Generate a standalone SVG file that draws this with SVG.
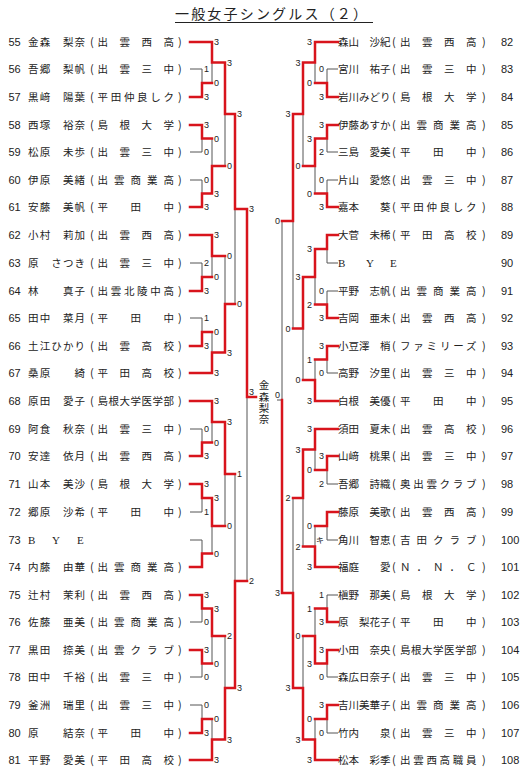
<svg xmlns="http://www.w3.org/2000/svg" width="520" height="776" viewBox="0 0 520 776">
<style>
.no{font-family:"Liberation Sans",Arial,sans-serif;font-size:11px;fill:#222}
.nm{font-family:"Noto Sans CJK JP",sans-serif;font-size:10.5px;fill:#222}
.pa{font-family:"Noto Sans CJK JP",sans-serif;font-size:11px;fill:#222}
.bye{font-family:"Liberation Serif",serif;font-size:11px;fill:#222}
.sc{font-family:"Liberation Sans",Arial,sans-serif;font-size:9px;fill:#222}
.sk{font-family:"Noto Sans CJK JP",sans-serif;font-size:8px;fill:#222}
.r{text-anchor:end}
.g{fill:none;stroke:#555;stroke-width:1}
.rd{fill:none;stroke:#d8141c;stroke-width:2.5;stroke-linecap:square}
.ti{font-family:"Noto Sans CJK JP",sans-serif;font-size:14px;fill:#222}
.vt{font-family:"Noto Sans CJK JP",sans-serif;font-size:10.5px;fill:#222;writing-mode:vertical-rl;letter-spacing:0.8px}
</style>
<rect width="520" height="776" fill="#fff"/>
<g id="title"><text class="ti" x="175" y="19" textLength="192">一般女子シングルス（２）</text><line x1="175" y1="22.5" x2="373" y2="22.5" stroke="#222" stroke-width="1"/></g>

<g id="connectors">
<path class="g" d="M190,69H202V83M212,62.5V83M190,152H202V138.5M190,180H202V193.5M212,138.5V166M225,114V166M190,263H202V277M212,256V277M190,318H202V332M212,332V352.5M225,256V304M235,209V304M190,429H202V442.5M212,422V442.5M190,512H202V498M190,540H202V553.5M212,526V553.5M225,474V526M190,622H202V608.5M190,677H202V663.5M212,636V663.5M190,705H202V719M212,719V739.5M225,636V688M235,474V581M247,397V581"/>
<path class="g" d="M338,69H327V83M315,62.5V83M338,152H327V138.5M338,180H327V193.5M315,166V193.5M303,114V166M338,263H327V249M338,291H327V304.5M315,277V304.5M338,373H327V359.5M315,359.5V380M303,328.5V380M293,221V328.5M338,484H327V470M315,449.5V470M338,540H327V526M315,526V546.5M303,498V546.5M338,595H327V608.5M315,608.5V636M338,677H327V663.5M338,733H327V719M315,719V739.5M303,636V688M293,498V593M282,221V400H277"/>
<path class="rd" d="M190,97H202V83H212M190,42H212V62.5H225M190,125H202V138.5H212M190,207H202V193.5H212M212,193.5V166H225M225,62.5V114H235M190,291H202V277H212M190,235H212V256H225M190,346H202V332H212M190,373H212V352.5H225M225,352.5V304H235M235,114V209H247M190,456H202V442.5H212M190,401H212V422H225M190,484H202V498H212M190,567H202V553.5H212M212,498V526H225M225,422V474H235M190,595H202V608.5H212M190,650H202V663.5H212M212,608.5V636H225M190,733H202V719H212M190,760H212V739.5H225M225,739.5V688H235M235,688V581H247M247,209V397H256"/>
<path class="rd" d="M338,97H327V83H315M338,42H315V62.5H303M338,125H327V138.5H315M338,207H327V193.5H315M315,138.5V166H303M303,62.5V114H293M338,235H327V249H315M338,318H327V304.5H315M315,249V277H303M338,346H327V359.5H315M338,401H315V380H303M303,277V328.5H293M293,114V221H282M338,429H315V449.5H303M338,456H327V470H315M338,512H327V526H315M338,567H315V546.5H303M303,449.5V498H293M338,622H327V608.5H315M338,650H327V663.5H315M315,663.5V636H303M338,705H327V719H315M338,760H315V739.5H303M303,739.5V688H293M293,688V593H282M282,593V400"/>
</g>

<g id="scores">
<text class="sc" x="204" y="72">1</text><text class="sc" x="204" y="100">3</text><text class="sc" x="204" y="128">3</text><text class="sc" x="204" y="155">0</text><text class="sc" x="204" y="183">0</text><text class="sc" x="204" y="210">3</text><text class="sc" x="204" y="266">2</text><text class="sc" x="204" y="294">3</text><text class="sc" x="204" y="321">1</text><text class="sc" x="204" y="349">3</text><text class="sc" x="204" y="432">0</text><text class="sc" x="204" y="459">3</text><text class="sc" x="204" y="487">3</text><text class="sc" x="204" y="515">1</text><text class="sc" x="204" y="598">3</text><text class="sc" x="204" y="625">0</text><text class="sc" x="204" y="653">3</text><text class="sc" x="204" y="680">0</text><text class="sc" x="204" y="708">0</text><text class="sc" x="204" y="736">3</text>
<text class="sc" x="214" y="45">3</text><text class="sc" x="214" y="86">0</text><text class="sc" x="214" y="141.5">0</text><text class="sc" x="214" y="196.5">3</text><text class="sc" x="214" y="238">3</text><text class="sc" x="214" y="280">0</text><text class="sc" x="214" y="335">0</text><text class="sc" x="214" y="376">3</text><text class="sc" x="214" y="404">3</text><text class="sc" x="214" y="445.5">0</text><text class="sc" x="214" y="501">3</text><text class="sc" x="214" y="556.5">0</text><text class="sc" x="214" y="611.5">3</text><text class="sc" x="214" y="666.5">0</text><text class="sc" x="214" y="722">0</text><text class="sc" x="214" y="763">3</text>
<text class="sc" x="227" y="65.5">3</text><text class="sc" x="227" y="169">0</text><text class="sc" x="227" y="259">0</text><text class="sc" x="227" y="355.5">3</text><text class="sc" x="227" y="425">3</text><text class="sc" x="227" y="529">0</text><text class="sc" x="227" y="639">2</text><text class="sc" x="227" y="742.5">3</text>
<text class="sc" x="237" y="117">3</text><text class="sc" x="237" y="307">0</text><text class="sc" x="237" y="477">1</text><text class="sc" x="237" y="691">3</text>
<text class="sc" x="249" y="212">3</text><text class="sc" x="249" y="584">2</text>
<text class="sc" x="249" y="395">3</text>
<text class="sc r" x="324" y="72">0</text><text class="sc r" x="324" y="100">3</text><text class="sc r" x="324" y="128">3</text><text class="sc r" x="324" y="155">2</text><text class="sc r" x="324" y="183">0</text><text class="sc r" x="324" y="210">3</text><text class="sc r" x="324" y="294">0</text><text class="sc r" x="324" y="321">3</text><text class="sc r" x="324" y="349">3</text><text class="sc r" x="324" y="376">0</text><text class="sc r" x="324" y="459">3</text><text class="sc r" x="324" y="487">2</text><text class="sk r" x="324" y="543">キ</text><text class="sc r" x="324" y="598">1</text><text class="sc r" x="324" y="625">3</text><text class="sc r" x="324" y="653">3</text><text class="sc r" x="324" y="680">0</text><text class="sc r" x="324" y="708">3</text><text class="sc r" x="324" y="736">0</text>
<text class="sc r" x="312" y="45">3</text><text class="sc r" x="312" y="86">0</text><text class="sc r" x="312" y="141.5">3</text><text class="sc r" x="312" y="196.5">0</text><text class="sc r" x="312" y="252">3</text><text class="sc r" x="312" y="307.5">2</text><text class="sc r" x="312" y="362.5">1</text><text class="sc r" x="312" y="404">3</text><text class="sc r" x="312" y="432">3</text><text class="sc r" x="312" y="473">0</text><text class="sc r" x="312" y="529">0</text><text class="sc r" x="312" y="570">3</text><text class="sc r" x="312" y="611.5">1</text><text class="sc r" x="312" y="666.5">3</text><text class="sc r" x="312" y="722">0</text><text class="sc r" x="312" y="763">3</text>
<text class="sc r" x="300.5" y="65.5">3</text><text class="sc r" x="300.5" y="169">0</text><text class="sc r" x="300.5" y="280">3</text><text class="sc r" x="300.5" y="383">0</text><text class="sc r" x="300.5" y="452.5">3</text><text class="sc r" x="300.5" y="549.5">2</text><text class="sc r" x="300.5" y="639">0</text><text class="sc r" x="300.5" y="742.5">3</text>
<text class="sc r" x="290.5" y="117">3</text><text class="sc r" x="290.5" y="331.5">0</text><text class="sc r" x="290.5" y="501">2</text><text class="sc r" x="290.5" y="691">3</text>
<text class="sc r" x="280" y="224">0</text><text class="sc r" x="280" y="596">3</text>
<text class="sc r" x="280" y="398">0</text>
</g>

<g id="winner"><text class="vt" x="264" y="380">金森梨奈</text></g>

<g id="p55"><text class="no" x="8.5" y="46">55</text><text class="nm" x="28" y="46" textLength="57">金森　梨奈</text><text class="pa" x="90" y="46">(</text><text class="nm" x="97.5" y="46" textLength="76.5">出雲西高</text><text class="pa" x="178" y="46">)</text></g>
<g id="p56"><text class="no" x="8.5" y="73">56</text><text class="nm" x="28" y="73" textLength="57">吾郷　梨帆</text><text class="pa" x="90" y="73">(</text><text class="nm" x="97.5" y="73" textLength="76.5">出雲三中</text><text class="pa" x="178" y="73">)</text></g>
<g id="p57"><text class="no" x="8.5" y="101">57</text><text class="nm" x="28" y="101" textLength="57">黒﨑　陽葉</text><text class="pa" x="90" y="101">(</text><text class="nm" x="97.5" y="101" textLength="76.5">平田仲良しク</text><text class="pa" x="178" y="101">)</text></g>
<g id="p58"><text class="no" x="8.5" y="129">58</text><text class="nm" x="28" y="129" textLength="57">西塚　裕奈</text><text class="pa" x="90" y="129">(</text><text class="nm" x="97.5" y="129" textLength="76.5">島根大学</text><text class="pa" x="178" y="129">)</text></g>
<g id="p59"><text class="no" x="8.5" y="156">59</text><text class="nm" x="28" y="156" textLength="57">松原　未歩</text><text class="pa" x="90" y="156">(</text><text class="nm" x="97.5" y="156" textLength="76.5">出雲三中</text><text class="pa" x="178" y="156">)</text></g>
<g id="p60"><text class="no" x="8.5" y="184">60</text><text class="nm" x="28" y="184" textLength="57">伊原　美緒</text><text class="pa" x="90" y="184">(</text><text class="nm" x="97.5" y="184" textLength="76.5">出雲商業高</text><text class="pa" x="178" y="184">)</text></g>
<g id="p61"><text class="no" x="8.5" y="211">61</text><text class="nm" x="28" y="211" textLength="57">安藤　美帆</text><text class="pa" x="90" y="211">(</text><text class="nm" x="97.5" y="211" textLength="76.5">平田中</text><text class="pa" x="178" y="211">)</text></g>
<g id="p62"><text class="no" x="8.5" y="239">62</text><text class="nm" x="28" y="239" textLength="57">小村　莉加</text><text class="pa" x="90" y="239">(</text><text class="nm" x="97.5" y="239" textLength="76.5">出雲西高</text><text class="pa" x="178" y="239">)</text></g>
<g id="p63"><text class="no" x="8.5" y="267">63</text><text class="nm" x="28" y="267" textLength="57">原　さつき</text><text class="pa" x="90" y="267">(</text><text class="nm" x="97.5" y="267" textLength="76.5">出雲三中</text><text class="pa" x="178" y="267">)</text></g>
<g id="p64"><text class="no" x="8.5" y="295">64</text><text class="nm" x="28" y="295" textLength="57">林　　真子</text><text class="pa" x="90" y="295">(</text><text class="nm" x="97.5" y="295" textLength="76.5">出雲北陵中高</text><text class="pa" x="178" y="295">)</text></g>
<g id="p65"><text class="no" x="8.5" y="322">65</text><text class="nm" x="28" y="322" textLength="57">田中　菜月</text><text class="pa" x="90" y="322">(</text><text class="nm" x="97.5" y="322" textLength="76.5">平田中</text><text class="pa" x="178" y="322">)</text></g>
<g id="p66"><text class="no" x="8.5" y="350">66</text><text class="nm" x="28" y="350" textLength="57">土江ひかり</text><text class="pa" x="90" y="350">(</text><text class="nm" x="97.5" y="350" textLength="76.5">出雲高校</text><text class="pa" x="178" y="350">)</text></g>
<g id="p67"><text class="no" x="8.5" y="377">67</text><text class="nm" x="28" y="377" textLength="57">桑原　　綺</text><text class="pa" x="90" y="377">(</text><text class="nm" x="97.5" y="377" textLength="76.5">平田高校</text><text class="pa" x="178" y="377">)</text></g>
<g id="p68"><text class="no" x="8.5" y="405">68</text><text class="nm" x="28" y="405" textLength="57">原田　愛子</text><text class="pa" x="90" y="405">(</text><text class="nm" x="97.5" y="405" textLength="76.5">島根大学医学部</text><text class="pa" x="178" y="405">)</text></g>
<g id="p69"><text class="no" x="8.5" y="433">69</text><text class="nm" x="28" y="433" textLength="57">阿食　秋奈</text><text class="pa" x="90" y="433">(</text><text class="nm" x="97.5" y="433" textLength="76.5">出雲三中</text><text class="pa" x="178" y="433">)</text></g>
<g id="p70"><text class="no" x="8.5" y="460">70</text><text class="nm" x="28" y="460" textLength="57">安達　依月</text><text class="pa" x="90" y="460">(</text><text class="nm" x="97.5" y="460" textLength="76.5">出雲西高</text><text class="pa" x="178" y="460">)</text></g>
<g id="p71"><text class="no" x="8.5" y="488">71</text><text class="nm" x="28" y="488" textLength="57">山本　美沙</text><text class="pa" x="90" y="488">(</text><text class="nm" x="97.5" y="488" textLength="76.5">島根大学</text><text class="pa" x="178" y="488">)</text></g>
<g id="p72"><text class="no" x="8.5" y="516">72</text><text class="nm" x="28" y="516" textLength="57">郷原　沙希</text><text class="pa" x="90" y="516">(</text><text class="nm" x="97.5" y="516" textLength="76.5">平田中</text><text class="pa" x="178" y="516">)</text></g>
<g id="p73"><text class="no" x="8.5" y="544">73</text><text class="bye" x="28 52 77" y="544">BYE</text></g>
<g id="p74"><text class="no" x="8.5" y="571">74</text><text class="nm" x="28" y="571" textLength="57">内藤　由華</text><text class="pa" x="90" y="571">(</text><text class="nm" x="97.5" y="571" textLength="76.5">出雲商業高</text><text class="pa" x="178" y="571">)</text></g>
<g id="p75"><text class="no" x="8.5" y="599">75</text><text class="nm" x="28" y="599" textLength="57">辻村　茉利</text><text class="pa" x="90" y="599">(</text><text class="nm" x="97.5" y="599" textLength="76.5">出雲西高</text><text class="pa" x="178" y="599">)</text></g>
<g id="p76"><text class="no" x="8.5" y="626">76</text><text class="nm" x="28" y="626" textLength="57">佐藤　亜美</text><text class="pa" x="90" y="626">(</text><text class="nm" x="97.5" y="626" textLength="76.5">出雲商業高</text><text class="pa" x="178" y="626">)</text></g>
<g id="p77"><text class="no" x="8.5" y="654">77</text><text class="nm" x="28" y="654" textLength="57">黒田　捺美</text><text class="pa" x="90" y="654">(</text><text class="nm" x="97.5" y="654" textLength="76.5">出雲クラブ</text><text class="pa" x="178" y="654">)</text></g>
<g id="p78"><text class="no" x="8.5" y="681">78</text><text class="nm" x="28" y="681" textLength="57">田中　千裕</text><text class="pa" x="90" y="681">(</text><text class="nm" x="97.5" y="681" textLength="76.5">出雲三中</text><text class="pa" x="178" y="681">)</text></g>
<g id="p79"><text class="no" x="8.5" y="709">79</text><text class="nm" x="28" y="709" textLength="57">釜洲　瑞里</text><text class="pa" x="90" y="709">(</text><text class="nm" x="97.5" y="709" textLength="76.5">出雲三中</text><text class="pa" x="178" y="709">)</text></g>
<g id="p80"><text class="no" x="8.5" y="737">80</text><text class="nm" x="28" y="737" textLength="57">原　　結奈</text><text class="pa" x="90" y="737">(</text><text class="nm" x="97.5" y="737" textLength="76.5">平田中</text><text class="pa" x="178" y="737">)</text></g>
<g id="p81"><text class="no" x="8.5" y="764">81</text><text class="nm" x="28" y="764" textLength="57">平野　愛美</text><text class="pa" x="90" y="764">(</text><text class="nm" x="97.5" y="764" textLength="76.5">平田高校</text><text class="pa" x="178" y="764">)</text></g>

<g id="p82"><text class="nm" x="338" y="46" textLength="52.5">森山　沙紀</text><text class="pa" x="392" y="46">(</text><text class="nm" x="400" y="46" textLength="76.5">出雲西高</text><text class="pa" x="482" y="46">)</text><text class="no" x="501" y="46">82</text></g>
<g id="p83"><text class="nm" x="338" y="73" textLength="52.5">宮川　祐子</text><text class="pa" x="392" y="73">(</text><text class="nm" x="400" y="73" textLength="76.5">出雲三中</text><text class="pa" x="482" y="73">)</text><text class="no" x="501" y="73">83</text></g>
<g id="p84"><text class="nm" x="338" y="101" textLength="52.5">岩川みどり</text><text class="pa" x="392" y="101">(</text><text class="nm" x="400" y="101" textLength="76.5">島根大学</text><text class="pa" x="482" y="101">)</text><text class="no" x="501" y="101">84</text></g>
<g id="p85"><text class="nm" x="338" y="129" textLength="52.5">伊藤あすか</text><text class="pa" x="392" y="129">(</text><text class="nm" x="400" y="129" textLength="76.5">出雲商業高</text><text class="pa" x="482" y="129">)</text><text class="no" x="501" y="129">85</text></g>
<g id="p86"><text class="nm" x="338" y="156" textLength="52.5">三島　愛美</text><text class="pa" x="392" y="156">(</text><text class="nm" x="400" y="156" textLength="76.5">平田中</text><text class="pa" x="482" y="156">)</text><text class="no" x="501" y="156">86</text></g>
<g id="p87"><text class="nm" x="338" y="184" textLength="52.5">片山　愛悠</text><text class="pa" x="392" y="184">(</text><text class="nm" x="400" y="184" textLength="76.5">出雲三中</text><text class="pa" x="482" y="184">)</text><text class="no" x="501" y="184">87</text></g>
<g id="p88"><text class="nm" x="338" y="211" textLength="52.5">嘉本　　葵</text><text class="pa" x="392" y="211">(</text><text class="nm" x="400" y="211" textLength="76.5">平田仲良しク</text><text class="pa" x="482" y="211">)</text><text class="no" x="501" y="211">88</text></g>
<g id="p89"><text class="nm" x="338" y="239" textLength="52.5">大菅　未稀</text><text class="pa" x="392" y="239">(</text><text class="nm" x="400" y="239" textLength="76.5">平田高校</text><text class="pa" x="482" y="239">)</text><text class="no" x="501" y="239">89</text></g>
<g id="p90"><text class="bye" x="338 366 390" y="267">BYE</text><text class="no" x="501" y="267">90</text></g>
<g id="p91"><text class="nm" x="338" y="295" textLength="52.5">平野　志帆</text><text class="pa" x="392" y="295">(</text><text class="nm" x="400" y="295" textLength="76.5">出雲商業高</text><text class="pa" x="482" y="295">)</text><text class="no" x="501" y="295">91</text></g>
<g id="p92"><text class="nm" x="338" y="322" textLength="52.5">吉岡　亜未</text><text class="pa" x="392" y="322">(</text><text class="nm" x="400" y="322" textLength="76.5">出雲西高</text><text class="pa" x="482" y="322">)</text><text class="no" x="501" y="322">92</text></g>
<g id="p93"><text class="nm" x="338" y="350" textLength="52.5">小豆澤　梢</text><text class="pa" x="392" y="350">(</text><text class="nm" x="400" y="350" textLength="76.5">ファミリーズ</text><text class="pa" x="482" y="350">)</text><text class="no" x="501" y="350">93</text></g>
<g id="p94"><text class="nm" x="338" y="377" textLength="52.5">高野　汐里</text><text class="pa" x="392" y="377">(</text><text class="nm" x="400" y="377" textLength="76.5">出雲三中</text><text class="pa" x="482" y="377">)</text><text class="no" x="501" y="377">94</text></g>
<g id="p95"><text class="nm" x="338" y="405" textLength="52.5">白根　美優</text><text class="pa" x="392" y="405">(</text><text class="nm" x="400" y="405" textLength="76.5">平田中</text><text class="pa" x="482" y="405">)</text><text class="no" x="501" y="405">95</text></g>
<g id="p96"><text class="nm" x="338" y="433" textLength="52.5">須田　夏未</text><text class="pa" x="392" y="433">(</text><text class="nm" x="400" y="433" textLength="76.5">出雲高校</text><text class="pa" x="482" y="433">)</text><text class="no" x="501" y="433">96</text></g>
<g id="p97"><text class="nm" x="338" y="460" textLength="52.5">山﨑　桃果</text><text class="pa" x="392" y="460">(</text><text class="nm" x="400" y="460" textLength="76.5">出雲三中</text><text class="pa" x="482" y="460">)</text><text class="no" x="501" y="460">97</text></g>
<g id="p98"><text class="nm" x="338" y="488" textLength="52.5">吾郷　詩織</text><text class="pa" x="392" y="488">(</text><text class="nm" x="400" y="488" textLength="76.5">奥出雲クラブ</text><text class="pa" x="482" y="488">)</text><text class="no" x="501" y="488">98</text></g>
<g id="p99"><text class="nm" x="338" y="516" textLength="52.5">藤原　美歌</text><text class="pa" x="392" y="516">(</text><text class="nm" x="400" y="516" textLength="76.5">出雲西高</text><text class="pa" x="482" y="516">)</text><text class="no" x="501" y="516">99</text></g>
<g id="p100"><text class="nm" x="338" y="544" textLength="52.5">角川　智恵</text><text class="pa" x="392" y="544">(</text><text class="nm" x="400" y="544" textLength="76.5">吉田クラブ</text><text class="pa" x="482" y="544">)</text><text class="no" x="501" y="544">100</text></g>
<g id="p101"><text class="nm" x="338" y="571" textLength="52.5">福庭　　愛</text><text class="pa" x="392" y="571">(</text><text class="nm" x="400" y="571" textLength="76.5">Ｎ．Ｎ．Ｃ</text><text class="pa" x="482" y="571">)</text><text class="no" x="501" y="571">101</text></g>
<g id="p102"><text class="nm" x="338" y="599" textLength="52.5">槇野　那美</text><text class="pa" x="392" y="599">(</text><text class="nm" x="400" y="599" textLength="76.5">島根大学</text><text class="pa" x="482" y="599">)</text><text class="no" x="501" y="599">102</text></g>
<g id="p103"><text class="nm" x="338" y="626" textLength="52.5">原　梨花子</text><text class="pa" x="392" y="626">(</text><text class="nm" x="400" y="626" textLength="76.5">平田中</text><text class="pa" x="482" y="626">)</text><text class="no" x="501" y="626">103</text></g>
<g id="p104"><text class="nm" x="338" y="654" textLength="52.5">小田　奈央</text><text class="pa" x="392" y="654">(</text><text class="nm" x="400" y="654" textLength="76.5">島根大学医学部</text><text class="pa" x="482" y="654">)</text><text class="no" x="501" y="654">104</text></g>
<g id="p105"><text class="nm" x="338" y="681" textLength="52.5">森広日奈子</text><text class="pa" x="392" y="681">(</text><text class="nm" x="400" y="681" textLength="76.5">出雲三中</text><text class="pa" x="482" y="681">)</text><text class="no" x="501" y="681">105</text></g>
<g id="p106"><text class="nm" x="338" y="709" textLength="52.5">吉川美華子</text><text class="pa" x="392" y="709">(</text><text class="nm" x="400" y="709" textLength="76.5">出雲商業高</text><text class="pa" x="482" y="709">)</text><text class="no" x="501" y="709">106</text></g>
<g id="p107"><text class="nm" x="338" y="737" textLength="52.5">竹内　　泉</text><text class="pa" x="392" y="737">(</text><text class="nm" x="400" y="737" textLength="76.5">出雲三中</text><text class="pa" x="482" y="737">)</text><text class="no" x="501" y="737">107</text></g>
<g id="p108"><text class="nm" x="338" y="764" textLength="52.5">松本　彩季</text><text class="pa" x="392" y="764">(</text><text class="nm" x="400" y="764" textLength="76.5">出雲西高職員</text><text class="pa" x="482" y="764">)</text><text class="no" x="501" y="764">108</text></g>
</svg>
